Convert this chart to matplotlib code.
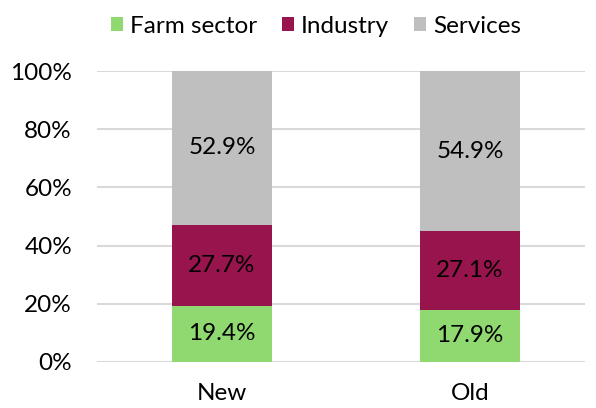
import numpy as np
import matplotlib.pyplot as plt
from matplotlib.ticker import PercentFormatter

plt.rcParams['font.family'] = ['Lato', 'DejaVu Sans']

categories = ['New', 'Old']
farm = [19.4, 17.9]
industry = [27.7, 27.1]
services = [52.9, 54.9]

series = [
    ('Farm sector', farm, '#8FD970'),
    ('Industry', industry, '#98144C'),
    ('Services', services, '#BFBFBF'),
]

fig = plt.figure(figsize=(5.96, 4.08), dpi=100)
ax = fig.add_axes([97 / 596, 46 / 408, 488 / 596, 291 / 408])

x = np.arange(len(categories))
bottom = np.zeros(len(categories))
for name, vals, color in series:
    vals = np.array(vals)
    ax.bar(x, vals, 0.403, bottom=bottom, color=color, label=name, zorder=2)
    for xi, b, v in zip(x, bottom, vals):
        ax.text(xi, b + v / 2, f'{v:.1f}%', ha='center', va='center',
                fontsize=17.5, color='black', zorder=3)
    bottom += vals

ax.set_ylim(0, 100)
ax.set_xlim(-0.504, 1.464)
ax.set_yticks(np.arange(0, 101, 20))
ax.yaxis.set_major_formatter(PercentFormatter(decimals=0))
ax.set_xticks(x)
ax.set_xticklabels(categories)
ax.tick_params(axis='both', length=0, labelsize=17.5, colors='black')
ax.tick_params(axis='x', pad=15)
ax.tick_params(axis='y', pad=18)
ax.grid(axis='y', color='#D9D9D9', linewidth=1.5, zorder=0)
for s in ax.spines.values():
    s.set_visible(False)

fig.legend(loc='upper center', bbox_to_anchor=(0.53, 1.015), ncol=3, frameon=False,
           fontsize=17.5, handlelength=0.5, handleheight=0.5, handletextpad=0.3,
           columnspacing=1.0)

fig.savefig('out.png', dpi=100)
